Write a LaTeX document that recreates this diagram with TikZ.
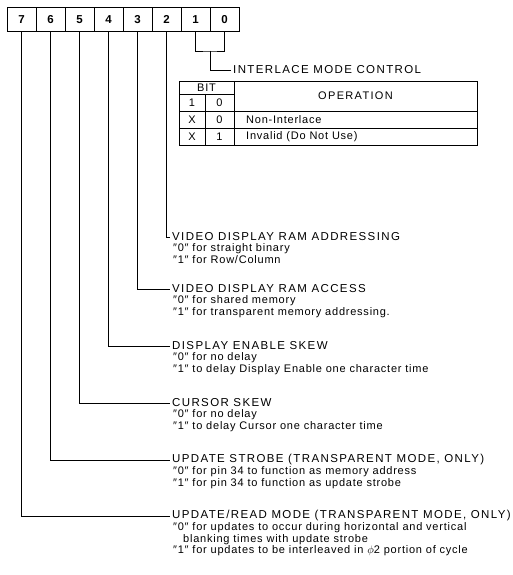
\documentclass[tikz,border=0pt]{standalone}
\usepackage{fontspec}
\setmainfont{Liberation Sans}
\newfontfamily\capfont[LetterSpace=12]{Liberation Sans}
\newfontfamily\txtfont[LetterSpace=7]{Liberation Sans}
\usetikzlibrary{positioning}
\tikzset{
  bitcell/.style={draw,line width=1pt,minimum width=29pt,minimum height=24pt,inner sep=0pt,font=\fontsize{11.5}{13}\bfseries},
  title/.style={anchor=west,inner xsep=2pt,inner ysep=0pt,font=\fontsize{11.5}{13}\capfont},
  desc/.style={inner sep=0pt,align=left,font=\fontsize{11}{11.6}\txtfont},
  cell/.style={inner sep=0pt,font=\fontsize{11}{12}\txtfont},
  wire/.style={line width=.9pt},
  tbl/.style={line width=.9pt}
}

\begin{document}
\begin{tikzpicture}[x=1pt,y=-1pt]
\useasboundingbox (0,0) rectangle (513,575);
\foreach \b [count=\i from 0] in {7,6,5,4,3,2,1,0}
  \node[bitcell] (b\b) at (21.5+29*\i,19.5) {\b};
\coordinate (jn) at (210,51);
\draw[wire] (b1.south) |- (jn) -| (b0.south);
\node[title] (imc) at (231,70) {INTERLACE MODE CONTROL};
\draw[wire] (jn) |- (imc.west);
\draw[tbl] (179,81) rectangle (477,145);
\draw[tbl] (234,81) -- (234,145) (179,94) -- (234,94) (205,94) -- (205,145)
  (179,111) -- (477,111) (179,128) -- (477,128);
\node[cell] (hbit) at (206.5,87.5) {BIT};
\node[cell] (h1) at (192,102.5) {1};
\node[cell] (h0) at (219.5,102.5) {0};
\node[cell,font=\fontsize{11}{12}\capfont] (hop) at (355.5,96) {OPERATION};
\node[cell] (ra1) at (192,119.5) {X};
\node[cell] (ra0) at (219.5,119.5) {0};
\node[cell,anchor=west] (rao) at (246,119.5) {Non-Interlace};
\node[cell] (rb1) at (192,136.5) {X};
\node[cell] (rb0) at (219.5,136.5) {1};
\node[cell,anchor=west] (rbo) at (246,136.5) {Invalid (Do Not Use)};
\node[title] (t2) at (170,237) {VIDEO DISPLAY RAM ADDRESSING};
\node[desc,below right=6.5pt and 3pt of t2.west] (d2) {″0″ for straight binary\\″1″ for Row/Column};
\node[title] (t3) at (170,289) {VIDEO DISPLAY RAM ACCESS};
\node[desc,below right=6.5pt and 3pt of t3.west] (d3) {″0″ for shared memory\\″1″ for transparent memory addressing.};
\node[title] (t4) at (170,346) {DISPLAY ENABLE SKEW};
\node[desc,below right=6.5pt and 3pt of t4.west] (d4) {″0″ for no delay\\″1″ to delay Display Enable one character time};
\node[title] (t5) at (170,403) {CURSOR SKEW};
\node[desc,below right=6.5pt and 3pt of t5.west] (d5) {″0″ for no delay\\″1″ to delay Cursor one character time};
\node[title] (t6) at (170,460) {UPDATE STROBE (TRANSPARENT MODE, ONLY)};
\node[desc,below right=6.5pt and 3pt of t6.west] (d6) {″0″ for pin 34 to function as memory address\\″1″ for pin 34 to function as update strobe};
\node[title] (t7) at (170,516) {UPDATE/READ MODE (TRANSPARENT MODE, ONLY)};
\node[desc,below right=6.5pt and 3pt of t7.west] (d7) {″0″ for updates to occur during horizontal and vertical\\\hspace*{10pt}blanking times with update strobe\\″1″ for updates to be interleaved in $\phi$2 portion of cycle};
\foreach \b in {2,...,7}
  \draw[wire] (b\b.south) |- (t\b.west);
\end{tikzpicture}
\end{document}
